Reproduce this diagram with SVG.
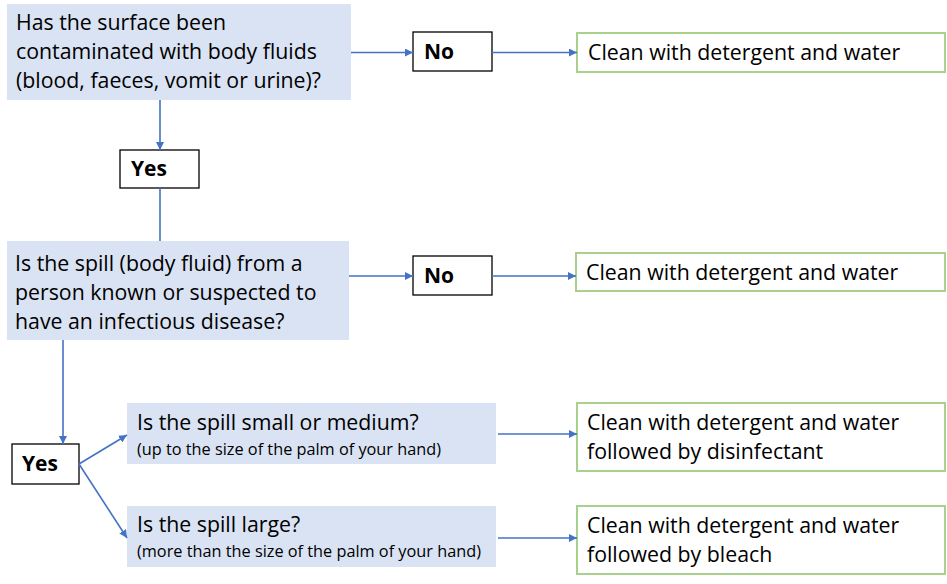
<svg xmlns="http://www.w3.org/2000/svg" width="947" height="584" viewBox="0 0 947 584">
<defs>
<marker id="ah" viewBox="0 0 10 10" refX="10" refY="5" markerWidth="5" markerHeight="5" orient="auto" markerUnits="strokeWidth">
<path d="M0,0 L10,5 L0,10 z" fill="#4472C4"/>
</marker>
<style>
.q{fill:#DAE3F3;stroke:none}
.c{fill:#fff;stroke:#000;stroke-width:1.3}
.g{fill:#fff;stroke:#A9D18E;stroke-width:2}
text{font-family:"Open Sans","Liberation Sans",sans-serif;fill:#000}
.t{font-size:21.3px}
.s{font-size:16.3px}
.b{font-size:21px;font-weight:bold}
.e{stroke:#4472C4;stroke-width:1.6;fill:none;marker-end:url(#ah)}
</style>
</defs>
<rect width="947" height="584" fill="#fff"/>
<g id="q1"><rect class="q" x="7" y="4" width="344" height="96"/>
<text class="t" x="16" y="30">Has the surface been</text>
<text class="t" x="16" y="59">contaminated with body fluids</text>
<text class="t" x="16" y="88">(blood, faeces, vomit or urine)?</text></g>
<g id="no1"><rect class="c" x="413" y="32" width="79" height="39"/><text class="b" x="424" y="59">No</text></g>
<g id="r1"><rect class="g" x="577" y="33" width="368" height="39"/><text class="t" x="588" y="60">Clean with detergent and water</text></g>
<g id="yes1"><rect class="c" x="120" y="150" width="79" height="38"/><text class="b" x="131" y="176">Yes</text></g>
<g id="q2"><rect class="q" x="7" y="241" width="342" height="99"/>
<text class="t" x="15" y="271">Is the spill (body fluid) from a</text>
<text class="t" x="15" y="300">person known or suspected to</text>
<text class="t" x="15" y="329">have an infectious disease?</text></g>
<g id="no2"><rect class="c" x="413" y="256" width="79" height="39"/><text class="b" x="424" y="283">No</text></g>
<g id="r2"><rect class="g" x="576" y="253" width="369" height="38"/><text class="t" x="586" y="280">Clean with detergent and water</text></g>
<g id="yes2"><rect class="c" x="12" y="444" width="67" height="40"/><text class="b" x="22" y="471">Yes</text></g>
<g id="q3"><rect class="q" x="127" y="403" width="369" height="61"/>
<text class="t" x="137" y="430">Is the spill small or medium?</text>
<text class="s" x="137" y="455">(up to the size of the palm of your hand)</text></g>
<g id="q4"><rect class="q" x="127" y="506" width="369" height="61"/>
<text class="t" x="137" y="532">Is the spill large?</text>
<text class="s" x="137" y="557">(more than the size of the palm of your hand)</text></g>
<g id="r3"><rect class="g" x="577" y="403" width="368" height="68"/>
<text class="t" x="587" y="430">Clean with detergent and water</text>
<text class="t" x="587" y="459">followed by disinfectant</text></g>
<g id="r4"><rect class="g" x="577" y="506" width="368" height="68"/>
<text class="t" x="587" y="533">Clean with detergent and water</text>
<text class="t" x="587" y="562">followed by bleach</text></g>
<g id="connectors">
<line class="e" x1="351" y1="52.5" x2="413" y2="52.5"/>
<line class="e" x1="492" y1="52.5" x2="577" y2="52.5"/>
<line class="e" x1="160" y1="100" x2="160" y2="150"/>
<line x1="160" y1="188" x2="160" y2="241" stroke="#4472C4" stroke-width="1.6"/>
<line class="e" x1="349" y1="276" x2="413" y2="276"/>
<line class="e" x1="492" y1="276" x2="576" y2="276"/>
<line class="e" x1="63" y1="340" x2="63" y2="444"/>
<line class="e" x1="79" y1="464" x2="127" y2="435"/>
<line class="e" x1="79" y1="464" x2="127" y2="538"/>
<line class="e" x1="498" y1="434" x2="577" y2="434"/>
<line class="e" x1="498" y1="538" x2="577" y2="538"/>
</g>
</svg>
